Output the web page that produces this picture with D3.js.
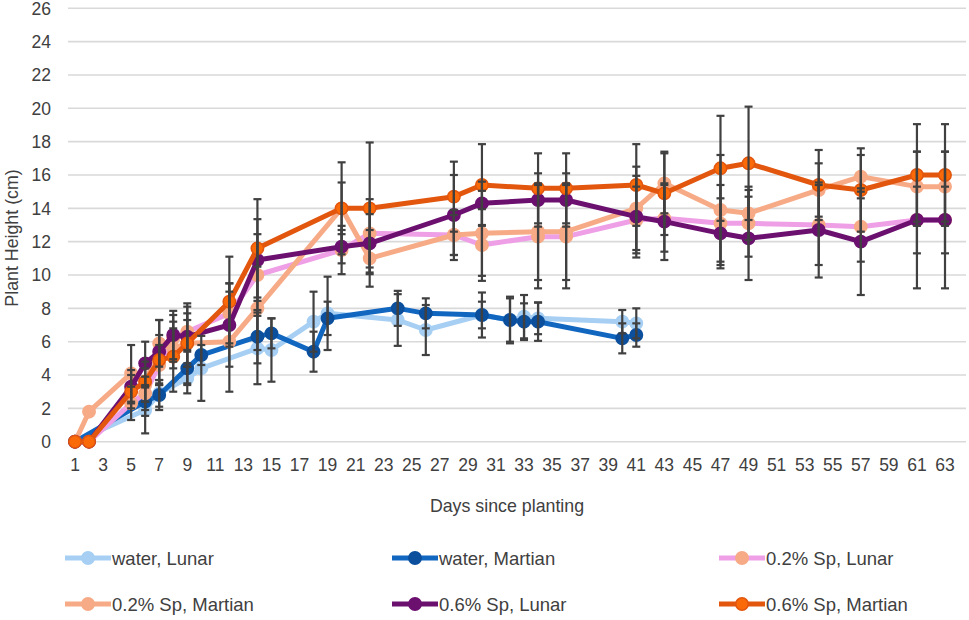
<!DOCTYPE html>
<html><head><meta charset="utf-8">
<script src="https://cdn.jsdelivr.net/npm/d3@7"></script>
<style>
html,body{margin:0;padding:0;background:#fff;}
text{font-family:"Liberation Sans",Arial,sans-serif;}
</style></head>
<body><svg id="c" width="969" height="620"></svg>
<script>
// ---- data ----
const waterDays = [1, 6, 7, 9, 10, 14, 15, 18, 19, 24, 26, 30, 32, 33, 34, 40, 41];
const waterLunar = [0, 1.9, 2.9, 3.8, 4.4, 5.6, 5.5, 7.2, 7.7, 7.3, 6.7, 7.6, 7.3, 7.5, 7.4, 7.2, 7.1];
const waterLunarErr = [0, 1.4, 0.8, 0.9, 1.95, 2.15, 1.9, 1.8, 2.2, 1.55, 1.5, 1.35, 1.4, 1.3, 0.95, 0.7, 0.9];
const waterMartian = [0, 2.4, 2.8, 4.4, 5.2, 6.3, 6.5, 5.4, 7.4, 8.0, 7.7, 7.6, 7.3, 7.2, 7.2, 6.2, 6.4];
const waterMartianErr = [0, 0.85, 0.9, 1.0, 0.6, 1.6, 0.9, 1.2, 1.0, 1.05, 0.9, 0.8, 1.3, 1.1, 1.15, 0.9, 0.7];

const spDays = [1, 2, 5, 6, 7, 8, 9, 12, 14, 20, 22, 28, 30, 34, 36, 41, 43, 47, 49, 54, 57, 61, 63];
const sp02Lunar = [0, 0, 2.3, 2.9, 4.6, 6.2, 6.6, 7.7, 10.0, 11.5, 12.5, 12.4, 11.8, 12.3, 12.3, 13.3, 13.4, 13.1, 13.1, 13.0, 12.9, 13.3, 13.3];
const sp02LunarErr = [0, 0, 1.0, 1.0, 1.2, 1.4, 1.1, 1.8, 2.45, 1.45, 2.05, 1.2, 2.15, 3.1, 3.1, 2.0, 2.0, 2.3, 2.0, 2.4, 2.1, 2.0, 2.0];
const sp02Martian = [0, 1.8, 4.1, 3.4, 5.9, 5.6, 5.9, 6.0, 8.0, 14.0, 11.0, 12.4, 12.5, 12.6, 12.6, 14.0, 15.5, 13.9, 13.7, 15.1, 15.9, 15.3, 15.3];
const sp02MartianErr = [0, 0, 1.7, 1.0, 1.4, 1.2, 1.4, 3.0, 2.5, 1.55, 1.7, 1.5, 2.55, 2.9, 2.9, 2.5, 1.8, 3.3, 1.6, 1.6, 1.3, 2.1, 2.1];
const sp06Lunar = [0, 0, 3.3, 4.7, 5.4, 6.4, 6.3, 7.0, 10.9, 11.7, 11.9, 13.6, 14.3, 14.5, 14.5, 13.5, 13.2, 12.5, 12.2, 12.7, 12.0, 13.3, 13.3];
const sp06LunarErr = [0, 0, 1.0, 1.3, 1.9, 1.45, 1.8, 2.5, 2.45, 1.0, 1.75, 2.4, 1.3, 1.6, 1.6, 2.45, 2.3, 2.1, 2.5, 2.85, 3.2, 4.1, 4.1];
const sp06Martian = [0, 0, 3.0, 3.6, 4.9, 5.1, 5.9, 8.4, 11.6, 14.0, 14.0, 14.7, 15.4, 15.2, 15.2, 15.4, 14.9, 16.4, 16.7, 15.4, 15.1, 16.0, 16.0];
const sp06MartianErr = [0, 0, 1.0, 1.2, 1.5, 2.1, 2.4, 2.7, 2.95, 2.76, 3.95, 2.1, 2.45, 2.1, 2.1, 2.45, 2.5, 3.15, 3.4, 2.1, 2.5, 3.05, 3.05];

const xTickLabels = d3.range(1, 64, 2);
const yTickLabels = d3.range(0, 27, 2);

const seriesNames = ["water, Lunar", "water, Martian", "0.2% Sp, Lunar", "0.2% Sp, Martian", "0.6% Sp, Lunar", "0.6% Sp, Martian"];
const lineColors = ["#a6cff3", "#1166c0", "#ee9fe6", "#f7aa86", "#6c1070", "#e2560e"];
const markerFills = ["#a6cff3", "#0c4f9c", "#f7aa86", "#f7aa86", "#6c1070", "#fb6a08"];
const markerStrokes = ["#a6cff3", "#0c4f9c", "#f7aa86", "#f7aa86", "#6c1070", "#e2560e"];

const series = [
  {days: waterDays, vals: waterLunar, err: waterLunarErr},
  {days: waterDays, vals: waterMartian, err: waterMartianErr},
  {days: spDays, vals: sp02Lunar, err: sp02LunarErr},
  {days: spDays, vals: sp02Martian, err: sp02MartianErr},
  {days: spDays, vals: sp06Lunar, err: sp06LunarErr},
  {days: spDays, vals: sp06Martian, err: sp06MartianErr}
].map((s, i) => ({name: seriesNames[i], pts: s.days.map((d, j) => ({d, v: s.vals[j], e: s.err[j]}))}));

// ---- chart ----
const svg = d3.select("#c");
const x = d3.scaleLinear().domain([1, 63]).range([75, 945]);
const y = d3.scaleLinear().domain([0, 26]).range([441.7, 8.3]);
const plotL = x(0.5), plotR = x(64.5);

// gridlines
svg.append("g").selectAll("line").data(yTickLabels).join("line")
  .attr("x1", plotL).attr("x2", plotR)
  .attr("y1", d => y(d)).attr("y2", d => y(d))
  .attr("stroke", "#d9d9d9").attr("stroke-width", 1.6);

// y tick labels
svg.append("g").selectAll("text").data(yTickLabels).join("text")
  .attr("x", 51).attr("y", d => y(d)).attr("dy", "0.36em")
  .attr("text-anchor", "end").attr("font-size", 17.5).attr("fill", "#404040")
  .text(d => d);

// x tick labels
svg.append("g").selectAll("text").data(xTickLabels).join("text")
  .attr("x", d => x(d)).attr("y", 471)
  .attr("text-anchor", "middle").attr("font-size", 17.5).attr("fill", "#404040")
  .text(d => d);

// axis titles
svg.append("text").attr("x", 507).attr("y", 512).attr("text-anchor", "middle")
  .attr("font-size", 17.8).attr("fill", "#404040").text("Days since planting");
svg.append("text").attr("transform", "translate(18,238) rotate(-90)").attr("text-anchor", "middle")
  .attr("font-size", 17.8).attr("fill", "#404040").text("Plant Height (cm)");

// lines and markers
const line = d3.line().x(p => x(p.d)).y(p => y(p.v));
series.forEach((s, i) => {
  const g = svg.append("g");
  g.append("path").attr("d", line(s.pts)).attr("fill", "none")
    .attr("stroke", lineColors[i]).attr("stroke-width", 5).attr("stroke-linejoin", "round");
  g.selectAll("circle").data(s.pts).join("circle")
    .attr("cx", p => x(p.d)).attr("cy", p => y(p.v)).attr("r", 6.2)
    .attr("fill", markerFills[i]).attr("stroke", markerStrokes[i]).attr("stroke-width", 1.5);
});

// error bars
const eb = svg.append("g").attr("stroke", "#404040").attr("stroke-width", 2.2);
series.forEach(s => {
  s.pts.filter(p => p.e > 0).forEach(p => {
    const cx = x(p.d), y1 = y(p.v - p.e), y2 = y(p.v + p.e);
    eb.append("line").attr("x1", cx).attr("x2", cx).attr("y1", y1).attr("y2", y2);
    eb.append("line").attr("x1", cx - 4).attr("x2", cx + 4).attr("y1", y1).attr("y2", y1);
    eb.append("line").attr("x1", cx - 4).attr("x2", cx + 4).attr("y1", y2).attr("y2", y2);
  });
});

// legend
const legX = [65, 392, 719], legY = [558, 604];
series.forEach((s, i) => {
  const lx = legX[i % 3], ly = legY[Math.floor(i / 3)];
  const g = svg.append("g");
  g.append("line").attr("x1", lx).attr("x2", lx + 46).attr("y1", ly).attr("y2", ly)
    .attr("stroke", lineColors[i]).attr("stroke-width", 5);
  g.append("circle").attr("cx", lx + 23).attr("cy", ly).attr("r", 6.2)
    .attr("fill", markerFills[i]).attr("stroke", markerStrokes[i]).attr("stroke-width", 1.5);
  g.append("text").attr("x", lx + 47).attr("y", ly).attr("dy", "0.36em")
    .attr("font-size", 18.5).attr("fill", "#404040").text(s.name);
});
</script></body></html>
